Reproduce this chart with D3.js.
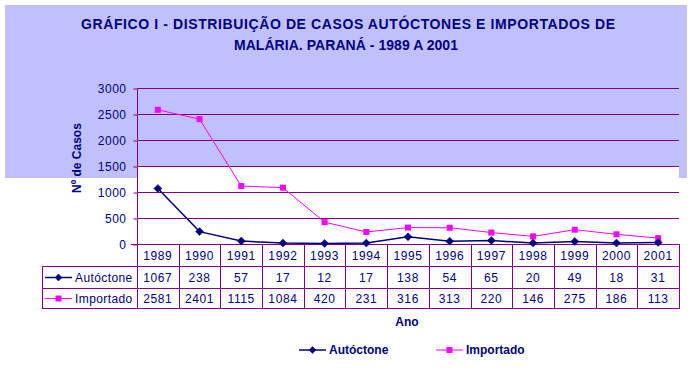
<!DOCTYPE html>
<html>
<head>
<meta charset="utf-8">
<script src="https://cdn.jsdelivr.net/npm/d3@7"></script>
<style>
  body { margin: 0; background: #fff; }
  svg { display: block; font-family: Arial, "Liberation Sans", sans-serif; }
</style>
</head>
<body>
<script>
var years = ["1989", "1990", "1991", "1992", "1993", "1994", "1995", "1996", "1997", "1998", "1999", "2000", "2001"];
var autoctone = [1067, 238, 57, 17, 12, 17, 138, 54, 65, 20, 49, 18, 31];
var importado = [2581, 2401, 1115, 1084, 420, 231, 316, 313, 220, 146, 275, 186, 113];
var yTicks = [0, 500, 1000, 1500, 2000, 2500, 3000];
var seriesNames = ["Autóctone", "Importado"];

var w = 693, h = 373;
var navy = "#000080", purple = "#800080", magenta = "#ff00ff";
var plotLeft = 137, plotRight = 679, plotTop = 88, plotBottom = 244;
var rowBottoms = [266, 288, 308]; // table rows
var labelLeft = 42;

var svg = d3.select("body").append("svg").attr("width", w).attr("height", h);

// chart area background (lavender) with the white patch of the plot area
svg.append("rect").attr("x", 5).attr("y", 5).attr("width", 682).attr("height", 173).attr("fill", "#c0c0ff");
svg.append("rect").attr("x", plotLeft).attr("y", 166).attr("width", plotRight - plotLeft).attr("height", 12).attr("fill", "#fff");

// title
var title = svg.append("text").attr("text-anchor", "middle").attr("fill", navy)
    .attr("font-size", "14px").attr("font-weight", "bold");
title.append("tspan").attr("x", 348).attr("y", 29).attr("textLength", 534).attr("lengthAdjust", "spacing")
    .text("GRÁFICO I - DISTRIBUIÇÃO DE CASOS AUTÓCTONES E IMPORTADOS DE");
title.append("tspan").attr("x", 346).attr("y", 50).attr("textLength", 224).attr("lengthAdjust", "spacing")
    .text("MALÁRIA. PARANÁ - 1989 A 2001");

var x = d3.scaleBand().domain(years).range([plotLeft, plotRight]);
var y = d3.scaleLinear().domain([0, 3000]).range([plotBottom, plotTop]);

// gridlines
svg.append("g").selectAll("line").data(yTicks.slice(1)).enter().append("line")
    .attr("x1", plotLeft).attr("x2", plotRight)
    .attr("y1", function (d) { return Math.round(y(d)) + 0.5; })
    .attr("y2", function (d) { return Math.round(y(d)) + 0.5; })
    .attr("stroke", purple).attr("stroke-width", 1);

// y axis
var yAxis = svg.append("g").attr("transform", "translate(" + (plotLeft + 0.5) + ",0.5)")
    .call(d3.axisLeft(y).tickValues(yTicks).tickFormat(d3.format("d")).tickSize(4).tickPadding(7));
yAxis.select(".domain").remove();
yAxis.selectAll(".tick line").attr("stroke", purple);
yAxis.selectAll(".tick text").attr("fill", navy).attr("font-size", "12px")
    .attr("font-family", "Arial, 'Liberation Sans', sans-serif").attr("letter-spacing", "0.5px");

svg.append("text").attr("transform", "translate(81,158) rotate(-90)")
    .attr("text-anchor", "middle").attr("fill", navy).attr("font-size", "12px")
    .attr("font-weight", "bold").text("Nº de Casos");

// data table grid
var grid = svg.append("g").attr("stroke", purple).attr("stroke-width", 1).attr("fill", "none");
grid.append("line").attr("x1", plotLeft + 0.5).attr("x2", plotLeft + 0.5).attr("y1", plotTop).attr("y2", rowBottoms[2] + 1);
grid.append("line").attr("x1", plotLeft - 6).attr("x2", plotRight).attr("y1", plotBottom + 0.5).attr("y2", plotBottom + 0.5);
rowBottoms.forEach(function (r) {
    grid.append("line").attr("x1", labelLeft).attr("x2", plotRight + 1).attr("y1", r + 0.5).attr("y2", r + 0.5);
});
grid.append("line").attr("x1", labelLeft + 0.5).attr("x2", labelLeft + 0.5).attr("y1", rowBottoms[0]).attr("y2", rowBottoms[2] + 1);
grid.selectAll(".col").data(years).enter().append("line")
    .attr("x1", function (d) { return Math.round(x(d) + x.bandwidth()) + 0.5; })
    .attr("x2", function (d) { return Math.round(x(d) + x.bandwidth()) + 0.5; })
    .attr("y1", plotBottom).attr("y2", rowBottoms[2] + 1);

var cx = function (d, i) { return x(years[i]) + x.bandwidth() / 2; };

// table text
var tableText = svg.append("g").attr("fill", navy).attr("font-size", "12px")
    .attr("text-anchor", "middle").attr("letter-spacing", "0.6px");
tableText.selectAll(".yr").data(years).enter().append("text")
    .attr("x", cx).attr("y", 260).text(function (d) { return d; });
tableText.selectAll(".a").data(autoctone).enter().append("text")
    .attr("x", cx).attr("y", 282).text(function (d) { return d; });
tableText.selectAll(".b").data(importado).enter().append("text")
    .attr("x", cx).attr("y", 303).text(function (d) { return d; });

function diamond(g, px, py, r) {
    g.append("path").attr("d", "M" + px + "," + (py - r) + "L" + (px + r) + "," + py + "L" + px + "," + (py + r) + "L" + (px - r) + "," + py + "Z")
        .attr("fill", navy).attr("stroke", navy).attr("stroke-width", 0.5);
}
function square(g, px, py, s) {
    g.append("rect").attr("x", px - s / 2).attr("y", py - s / 2).attr("width", s).attr("height", s).attr("fill", magenta);
}
function legendKey(g, x0, yy, idx) {
    var color = idx === 0 ? navy : magenta;
    g.append("line").attr("x1", x0).attr("x2", x0 + 27).attr("y1", yy).attr("y2", yy)
        .attr("stroke", color).attr("stroke-width", idx === 0 ? 1.5 : 1);
    if (idx === 0) diamond(g, x0 + 13.5, yy, 3.5); else square(g, x0 + 13.5, yy, 6);
}

// legend keys inside the table
var keys = svg.append("g");
legendKey(keys, 45, 277.5, 0);
legendKey(keys, 45, 298.5, 1);
keys.append("text").attr("x", 75).attr("y", 282).attr("fill", navy).attr("font-size", "12px").attr("letter-spacing", "0.4px").text(seriesNames[0]);
keys.append("text").attr("x", 75).attr("y", 303).attr("fill", navy).attr("font-size", "12px").attr("letter-spacing", "0.4px").text(seriesNames[1]);

// series lines
var line = d3.line().x(cx).y(function (d) { return y(d); });
svg.append("path").datum(importado).attr("d", line).attr("fill", "none").attr("stroke", magenta).attr("stroke-width", 1);
svg.append("path").datum(autoctone).attr("d", line).attr("fill", "none").attr("stroke", navy).attr("stroke-width", 1.5);

var marks = svg.append("g");
importado.forEach(function (d, i) { square(marks, cx(d, i), y(d), 6); });
autoctone.forEach(function (d, i) { diamond(marks, cx(d, i), y(d), 4); });

// x axis title
svg.append("text").attr("x", 407).attr("y", 326).attr("text-anchor", "middle")
    .attr("fill", navy).attr("font-size", "12px").attr("font-weight", "bold").text("Ano");

// bottom legend
var legend = svg.append("g");
legendKey(legend, 299, 350, 0);
legendKey(legend, 436, 350, 1);
legend.append("text").attr("x", 329).attr("y", 354).attr("fill", navy).attr("font-size", "12px").attr("font-weight", "bold").text(seriesNames[0]);
legend.append("text").attr("x", 466).attr("y", 354).attr("fill", navy).attr("font-size", "12px").attr("font-weight", "bold").text(seriesNames[1]);
</script>
</body>
</html>
